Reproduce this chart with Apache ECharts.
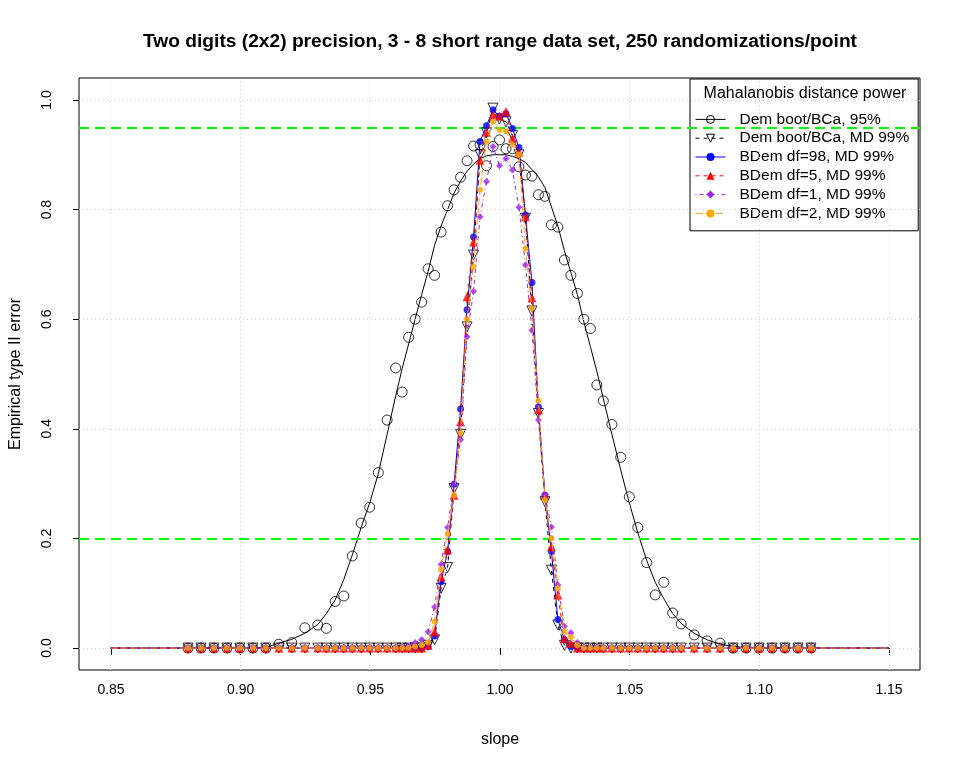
<!DOCTYPE html>
<html>
<head>
<meta charset="utf-8">
<script src="https://cdn.jsdelivr.net/npm/echarts@6/dist/echarts.min.js"></script>
<style>
  html, body { margin: 0; padding: 0; background: #fff; }
  #chart { width: 960px; height: 768px; }
</style>
</head>
<body>
<div id="chart"></div>
<script>
// slopes where the randomizations were run (finer near 1)
const slopes = [
  0.88, 0.885, 0.89, 0.895, 0.9, 0.905, 0.91, 0.915, 0.92, 0.925, 0.93,
  0.9333, 0.9367, 0.94, 0.9433, 0.9467, 0.95, 0.9533, 0.9567, 0.96,
  0.9625, 0.965, 0.9675, 0.97, 0.9725, 0.975, 0.9775, 0.98, 0.9825, 0.985, 0.9875, 0.99,
  0.9925, 0.995, 0.9975, 1, 1.0025, 1.005, 1.0075, 1.01, 1.0125, 1.015, 1.0175, 1.02,
  1.0225, 1.025, 1.0275, 1.03, 1.0325, 1.035, 1.0375, 1.04,
  1.0433, 1.0467, 1.05, 1.0533, 1.0567, 1.06, 1.0633, 1.0667, 1.07,
  1.075, 1.08, 1.085, 1.09, 1.095, 1.1, 1.105, 1.11, 1.115, 1.12
];

// empirical type II error per method
const demBca95 = [
  0, 0, 0, 0, 0, 0, 0, 0.007, 0.01, 0.037, 0.042,
  0.036, 0.085, 0.095, 0.168, 0.228, 0.257, 0.32, 0.416, 0.511,
  0.467, 0.567, 0.6, 0.631, 0.692, 0.68, 0.759, 0.807, 0.836, 0.859, 0.889, 0.916,
  0.918, 0.88, 0.915, 0.927, 0.911, 0.911, 0.878, 0.863, 0.861, 0.827, 0.824, 0.772,
  0.768, 0.708, 0.68, 0.647, 0.6, 0.583, 0.48, 0.451,
  0.408, 0.348, 0.276, 0.22, 0.156, 0.097, 0.12, 0.064, 0.044,
  0.024, 0.013, 0.009, 0, 0, 0, 0, 0, 0, 0
];
const demMd99 = [
  0, 0, 0, 0, 0, 0, 0, 0, 0, 0, 0,
  0, 0, 0, 0, 0, 0, 0, 0, 0,
  0, 0, 0, 0, 0.005, 0.015, 0.109, 0.147, 0.291, 0.39, 0.586, 0.717,
  0.9, 0.94, 0.985, 0.965, 0.96, 0.935, 0.9, 0.784, 0.615, 0.428, 0.267, 0.142,
  0.042, 0.005, 0, 0, 0, 0, 0, 0,
  0, 0, 0, 0, 0, 0, 0, 0, 0,
  0, 0, 0, 0, 0, 0, 0, 0, 0, 0
];
const bdemDf98 = [
  0, 0, 0, 0, 0, 0, 0, 0, 0, 0, 0,
  0, 0, 0, 0, 0, 0, 0, 0, 0,
  0, 0, 0, 0, 0.003, 0.022, 0.121, 0.176, 0.299, 0.436, 0.617, 0.75,
  0.924, 0.953, 0.982, 0.97, 0.975, 0.948, 0.913, 0.79, 0.667, 0.44, 0.279, 0.176,
  0.052, 0.015, 0.003, 0, 0, 0, 0, 0,
  0, 0, 0, 0, 0, 0, 0, 0, 0,
  0, 0, 0, 0, 0, 0, 0, 0, 0, 0
];
const bdemDf5 = [
  0, 0, 0, 0, 0, 0, 0, 0, 0, 0, 0,
  0, 0, 0, 0, 0, 0, 0, 0, 0,
  0, 0, 0, 0, 0.005, 0.03, 0.13, 0.179, 0.279, 0.413, 0.641, 0.741,
  0.89, 0.941, 0.973, 0.97, 0.979, 0.93, 0.905, 0.787, 0.639, 0.435, 0.279, 0.185,
  0.097, 0.017, 0.009, 0, 0, 0, 0, 0,
  0, 0, 0, 0, 0, 0, 0, 0, 0,
  0, 0, 0, 0, 0, 0, 0, 0, 0, 0
];
const bdemDf1 = [
  0, 0, 0, 0, 0, 0, 0, 0, 0, 0, 0,
  0, 0, 0, 0, 0, 0, 0, 0, 0,
  0, 0.003, 0.01, 0.015, 0.03, 0.075, 0.153, 0.22, 0.3, 0.38, 0.568, 0.651,
  0.787, 0.851, 0.915, 0.88, 0.893, 0.872, 0.804, 0.699, 0.58, 0.416, 0.279, 0.221,
  0.115, 0.04, 0.028, 0.01, 0, 0, 0, 0,
  0, 0, 0, 0, 0, 0, 0, 0, 0,
  0, 0, 0, 0, 0, 0, 0, 0, 0, 0
];
const bdemDf2 = [
  0, 0, 0, 0, 0, 0, 0, 0, 0, 0, 0,
  0, 0, 0, 0, 0, 0, 0, 0, 0,
  0, 0, 0.003, 0.005, 0.01, 0.048, 0.144, 0.208, 0.279, 0.392, 0.6, 0.696,
  0.836, 0.924, 0.96, 0.945, 0.943, 0.918, 0.9, 0.729, 0.62, 0.451, 0.27, 0.2,
  0.109, 0.03, 0.02, 0.005, 0, 0, 0, 0,
  0, 0, 0, 0, 0, 0, 0, 0, 0,
  0, 0, 0, 0, 0, 0, 0, 0, 0, 0
];

// smooth curve drawn through the Dem boot/BCa 95% points
const fitSlopes = [
  0.85, 0.9, 0.905, 0.91, 0.915, 0.92, 0.925, 0.93, 0.9333, 0.9367, 0.94, 0.9433, 0.9467,
  0.95, 0.9533, 0.9567, 0.96, 0.9625, 0.965, 0.9675, 0.97, 0.9725, 0.975, 0.9775, 0.98,
  0.9825, 0.985, 0.9875, 0.99, 0.9925, 0.995, 0.9975, 1, 1.0025, 1.005, 1.0075, 1.01,
  1.0125, 1.015, 1.0175, 1.02, 1.0225, 1.025, 1.0275, 1.03, 1.0325, 1.035, 1.0375, 1.04,
  1.0433, 1.0467, 1.05, 1.0533, 1.0567, 1.06, 1.0633, 1.0667, 1.07, 1.075, 1.08, 1.085,
  1.09, 1.095, 1.1, 1.15
];
const fitDemBca95 = [
  0, 0, 0, 0.001, 0.009, 0.016, 0.027, 0.043, 0.063, 0.088, 0.125, 0.17, 0.22,
  0.265, 0.318, 0.39, 0.46, 0.51, 0.555, 0.6, 0.645, 0.687, 0.735, 0.77, 0.8,
  0.83, 0.852, 0.87, 0.883, 0.893, 0.898, 0.9, 0.9, 0.9, 0.897, 0.893, 0.886,
  0.873, 0.86, 0.84, 0.805, 0.77, 0.725, 0.685, 0.645, 0.595, 0.55, 0.505, 0.455,
  0.39, 0.325, 0.265, 0.21, 0.16, 0.12, 0.09, 0.063, 0.045, 0.027, 0.015, 0.007,
  0.003, 0.001, 0, 0
];

// the other curves run flat at zero out to these slopes
const lineEnds = [0.85, 1.15];
const xTicks = [0.85, 0.9, 0.95, 1, 1.05, 1.1, 1.15];
const yTicks = [0, 0.2, 0.4, 0.6, 0.8, 1];
const powerLevels = [0.95, 0.2];

const names = [
  'Dem boot/BCa, 95%',
  'Dem boot/BCa, MD 99%',
  'BDem df=98, MD 99%',
  'BDem df=5, MD 99%',
  'BDem df=1, MD 99%',
  'BDem df=2, MD 99%'
];

const FONT = 'Liberation Sans';

function pairs(xs, ys) {
  return xs.map(function (x, i) { return [x, ys[i]]; });
}
function withEnds(xs, ys) {
  return [[lineEnds[0], 0]].concat(pairs(xs, ys), [[lineEnds[1], 0]]);
}

const styles = [
  { values: demBca95, line: pairs(fitSlopes, fitDemBca95), color: '#000000', dash: 'solid',
    symbol: 'circle', size: 10, rotate: 0, open: true },
  { values: demMd99, line: withEnds(slopes, demMd99), color: '#000000', dash: [4, 4],
    symbol: 'triangle', size: 10, rotate: 180, open: true },
  { values: bdemDf98, line: withEnds(slopes, bdemDf98), color: '#0000ff', dash: 'solid',
    symbol: 'circle', size: 7, rotate: 0, open: false },
  { values: bdemDf5, line: withEnds(slopes, bdemDf5), color: '#ff0000', dash: [4, 4],
    symbol: 'triangle', size: 9, rotate: 0, open: false },
  { values: bdemDf1, line: withEnds(slopes, bdemDf1), color: '#a020f0', dash: [1, 3, 4, 3],
    symbol: 'diamond', size: 7, rotate: 0, open: false },
  { values: bdemDf2, line: withEnds(slopes, bdemDf2), color: '#ffa500', dash: [7, 3],
    symbol: 'circle', size: 6, rotate: 0, open: false }
];

let series = [];

// reference grid and power levels
series.push({
  type: 'line', xAxisIndex: 0, yAxisIndex: 0, data: [], silent: true, z: 1,
  markLine: {
    silent: true, symbol: 'none', label: { show: false },
    lineStyle: { color: '#d3d3d3', type: [1, 3], width: 1 },
    data: xTicks.map(function (v) { return { xAxis: v }; })
      .concat(yTicks.map(function (v) { return { yAxis: v }; }))
  }
});
series.push({
  type: 'line', xAxisIndex: 0, yAxisIndex: 0, data: [], silent: true, z: 2,
  markLine: {
    silent: true, symbol: 'none', label: { show: false },
    lineStyle: { color: '#00ff00', type: [10, 6], width: 2 },
    data: powerLevels.map(function (v) { return { yAxis: v }; })
  }
});

styles.forEach(function (s, i) {
  let item = s.open
    ? { color: 'transparent', borderColor: s.color, borderWidth: 1 }
    : { color: s.color, borderWidth: 0 };
  series.push({
    name: names[i], type: 'line', xAxisIndex: 0, yAxisIndex: 0,
    data: s.line, showSymbol: false, symbol: s.symbol, symbolSize: s.size,
    symbolRotate: s.rotate, itemStyle: item,
    lineStyle: { color: s.color, width: 1, type: s.dash },
    z: 3 + i * 2, silent: true
  });
  series.push({
    name: names[i], type: 'scatter', xAxisIndex: 0, yAxisIndex: 0,
    data: pairs(slopes, s.values), symbol: s.symbol, symbolSize: s.size,
    symbolRotate: s.rotate, itemStyle: item, z: 4 + i * 2, silent: true
  });
});

let myChart = echarts.init(document.getElementById('chart'));
let option = {
  animation: false,
  backgroundColor: '#ffffff',
  textStyle: { fontFamily: FONT, color: '#000' },
  title: [
    {
      text: 'Two digits (2x2) precision, 3 - 8 short range data set, 250 randomizations/point',
      left: 500, top: 32, padding: 0, textAlign: 'center',
      textStyle: { fontFamily: FONT, fontSize: 19.2, fontWeight: 'bold', color: '#000' }
    },
    {
      text: 'Mahalanobis distance power',
      left: 805, top: 86, padding: 0, textAlign: 'center',
      textStyle: { fontFamily: FONT, fontSize: 16, fontWeight: 'normal', color: '#000' }
    }
  ],
  legend: {
    orient: 'vertical', left: 690, top: 79,
    data: names, selectedMode: false,
    itemWidth: 30, itemHeight: 10, itemGap: 0,
    padding: [31, 9, 8, 5],
    borderColor: '#000', borderWidth: 1,
    lineStyle: { width: 1 },
    itemStyle: { borderWidth: 1 },
    textStyle: { fontFamily: FONT, fontSize: 15.5, lineHeight: 18.8, color: '#000', padding: [0, 0, 0, 9] }
  },
  grid: [
    { left: 79, right: 40, top: 78, bottom: 98, show: true, borderColor: '#000', borderWidth: 1 },
    { left: 110, right: 71, top: 100, bottom: 120 }
  ],
  xAxis: [
    { type: 'value', gridIndex: 0, min: 0.838, max: 1.162, show: false },
    {
      type: 'value', gridIndex: 1, min: 0.85, max: 1.15, interval: 0.05, offset: 22,
      name: 'slope', nameLocation: 'middle', nameGap: 62,
      nameTextStyle: { fontFamily: FONT, fontSize: 16, color: '#000' },
      axisLine: { show: false }, splitLine: { show: false },
      axisTick: { show: true, length: 7, lineStyle: { color: '#000' } },
      axisLabel: { margin: 13, fontSize: 14, color: '#000', fontFamily: FONT,
        formatter: function (v) { return v.toFixed(2); } }
    }
  ],
  yAxis: [
    { type: 'value', gridIndex: 0, min: -0.04, max: 1.04, show: false },
    {
      type: 'value', gridIndex: 1, min: 0, max: 1, interval: 0.2, offset: 31,
      name: 'Empirical type II error', nameLocation: 'middle', nameGap: 56,
      nameTextStyle: { fontFamily: FONT, fontSize: 16, color: '#000' },
      axisLine: { show: false }, splitLine: { show: false },
      axisTick: { show: true, length: 7, lineStyle: { color: '#000' } },
      axisLabel: { margin: 26, rotate: 90, fontSize: 14, color: '#000', fontFamily: FONT,
        formatter: function (v) { return v.toFixed(1); } }
    }
  ],
  series: series
};
option && myChart.setOption(option);
</script>
</body>
</html>
